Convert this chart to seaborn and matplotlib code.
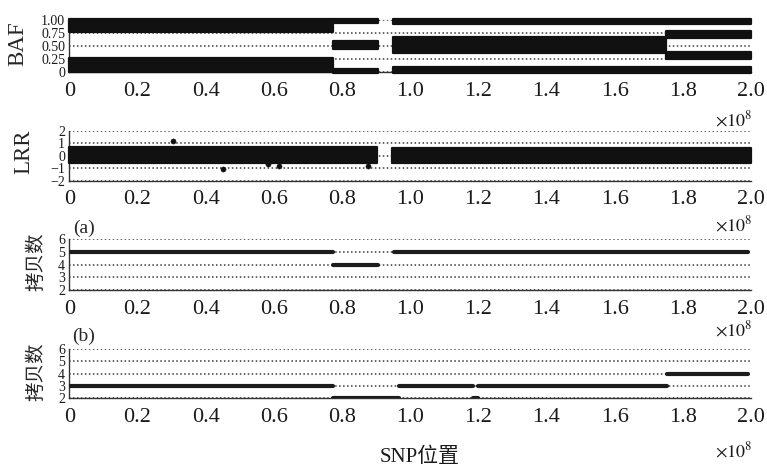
import matplotlib
matplotlib.use("Agg")
import matplotlib.pyplot as plt
import numpy as np
import pandas as pd
import seaborn as sns

# ---- data (positions in bp) ----
x_ticks = [0, 0.2e8, 0.4e8, 0.6e8, 0.8e8, 1.0e8, 1.2e8, 1.4e8, 1.6e8, 1.8e8, 2.0e8]
x_tick_labels = ["0", "0.2", "0.4", "0.6", "0.8", "1.0", "1.2", "1.4", "1.6", "1.8", "2.0"]

# BAF clusters: start, end, lower and upper edge of each dense band
baf_start = [0.000e8, 0.000e8, 0.775e8, 0.775e8, 0.775e8, 0.950e8, 0.950e8, 0.950e8, 1.750e8, 1.750e8]
baf_end   = [0.775e8, 0.775e8, 0.905e8, 0.905e8, 0.905e8, 2.000e8, 1.750e8, 2.000e8, 2.000e8, 2.000e8]
baf_low   = [0.00,    0.77,    -0.01,   0.45,    0.95,    -0.01,   0.37,    0.92,    0.25,    0.66]
baf_high  = [0.27,    1.01,    0.05,    0.60,    1.01,    0.09,    0.67,    1.01,    0.38,    0.79]
baf_ticks = [0, 0.25, 0.5, 0.75, 1.0]
baf_tick_labels = ["0", "0.25", "0.50", "0.75", "1.00"]

# LRR clusters
lrr_start = [0.000e8, 0.947e8]
lrr_end   = [0.903e8, 2.000e8]
lrr_low   = [-0.62, -0.60]
lrr_high  = [0.68, 0.63]
lrr_out_x = [0.305e8, 0.452e8, 0.584e8, 0.614e8, 0.875e8]
lrr_out_y = [1.15, -1.06, -0.70, -0.85, -0.80]
lrr_ticks = [-2, -1, 0, 1, 2]
lrr_tick_labels = ["\u22122", "\u22121", "0", "1", "2"]

# Copy-number segments
cna_start = [0.000e8, 0.775e8, 0.952e8]
cna_end   = [0.775e8, 0.905e8, 1.990e8]
cna_value = [5, 4, 5]
cnb_start = [0.000e8, 0.775e8, 0.968e8, 1.185e8, 1.200e8, 1.755e8]
cnb_end   = [0.775e8, 0.968e8, 1.185e8, 1.200e8, 1.755e8, 1.990e8]
cnb_value = [3, 2, 3, 2, 3, 4]
cn_ticks = [2, 3, 4, 5, 6]

# ---- style ----
sns.set_style("white")
plt.rcParams["font.family"] = ["Liberation Serif", "Noto Sans CJK SC"]
plt.rcParams["mathtext.fontset"] = "stix"
plt.rcParams["axes.unicode_minus"] = True

INK = "#111111"
AXC = "#333333"

fig = plt.figure(figsize=(7.67, 4.67), dpi=100)
W, H = 767.0, 467.0
left_px, right_px = 69.3, 751.0
# (top, bottom) of each panel in pixels
panel_px = [(20.0, 72.0), (130.7, 180.7), (239.0, 290.0), (349.0, 398.3)]
axes = []
for top, bot in panel_px:
    ax = fig.add_axes([left_px / W, 1 - bot / H, (right_px - left_px) / W, (bot - top) / H])
    axes.append(ax)


def style_axis(ax, yticks, ylabels, ylim):
    ax.set_xlim(0, 2.0e8)
    ax.set_ylim(*ylim)
    ax.set_xticks(x_ticks)
    ax.set_xticklabels(x_tick_labels)
    ax.set_yticks(yticks)
    ax.set_yticklabels(ylabels)
    for s in ["top", "right"]:
        ax.spines[s].set_visible(False)
    for s in ["left", "bottom"]:
        ax.spines[s].set_color(AXC)
        ax.spines[s].set_linewidth(1.0)
        ax.spines[s].set_zorder(1)
    ax.tick_params(axis="x", direction="in", length=4.5, width=1.0, color=AXC,
                   labelsize=16, pad=7, labelcolor="#1a1a1a")
    ax.tick_params(axis="y", direction="in", length=2.5, width=1.0, color=AXC,
                   labelsize=10, pad=3, labelcolor="#1a1a1a")
    ax.yaxis.grid(True, linestyle=(0, (1.0, 1.6)), color="#3a3a3a", linewidth=1.1)
    ax.xaxis.grid(False)
    ax.set_axisbelow(True)
    ax.set_facecolor("white")


def draw_bands(ax, starts, ends, lows, highs):
    for s, e, lo, hi in zip(starts, ends, lows, highs):
        ax.fill_between([s, e], [lo, lo], [hi, hi], color=INK, edgecolor=INK,
                        linewidth=1.6, joinstyle="round", clip_on=False, zorder=3)


def draw_segments(ax, starts, ends, values):
    df = pd.DataFrame({
        "pos": [p for s, e in zip(starts, ends) for p in (s, e)],
        "cn": [v for v in values for _ in range(2)],
        "seg": [i for i in range(len(values)) for _ in range(2)],
    })
    sns.lineplot(data=df, x="pos", y="cn", units="seg", estimator=None, sort=False,
                 color="#1c1c1c", linewidth=3.0, solid_capstyle="round", ax=ax,
                 legend=False, zorder=3)
    ax.set_xlabel("")
    ax.set_ylabel("")


# BAF
ax = axes[0]
style_axis(ax, baf_ticks, baf_tick_labels, (0, 1))
draw_bands(ax, baf_start, baf_end, baf_low, baf_high)
ax.set_ylabel("BAF", fontsize=16.5)
ax.yaxis.set_label_coords(-0.060, 0.55)

# LRR
ax = axes[1]
style_axis(ax, lrr_ticks, lrr_tick_labels, (-2, 2))
draw_bands(ax, lrr_start, lrr_end, lrr_low, lrr_high)
sns.scatterplot(x=lrr_out_x, y=lrr_out_y, color=INK, s=14, edgecolor=INK, ax=ax, zorder=3)
ax.set_ylabel("LRR", fontsize=16.5)
ax.yaxis.set_label_coords(-0.052, 0.57)

# Copy number (a)
ax = axes[2]
style_axis(ax, cn_ticks, [str(t) for t in cn_ticks], (2, 6))
draw_segments(ax, cna_start, cna_end, cna_value)
ax.set_ylabel("拷贝数", fontsize=14)
ax.yaxis.set_label_coords(-0.035, 0.55)
ax.text(0.006, 1.20, "(a)", transform=ax.transAxes, fontsize=14, ha="left", va="center")

# Copy number (b)
ax = axes[3]
style_axis(ax, cn_ticks, [str(t) for t in cn_ticks], (2, 6))
draw_segments(ax, cnb_start, cnb_end, cnb_value)
ax.set_ylabel("拷贝数", fontsize=14)
ax.yaxis.set_label_coords(-0.035, 0.53)
ax.text(0.004, 1.26, "(b)", transform=ax.transAxes, fontsize=14, ha="left", va="center")

# scale factor under each panel
offset_px = [48.0, 44.3, 40.0, 52.7]
for ax, (top, bot), off in zip(axes, panel_px, offset_px):
    ax.text(1.002, -off / (bot - top), r"$\times10^{8}$", transform=ax.transAxes,
            fontsize=13, ha="right", va="center", color="#1a1a1a")

fig.text(419.5 / W, 1 - 457.0 / H, "SNP位置", fontsize=15, ha="center", va="center",
         color="#1a1a1a")

fig.savefig("out.png", dpi=100, facecolor="white")
